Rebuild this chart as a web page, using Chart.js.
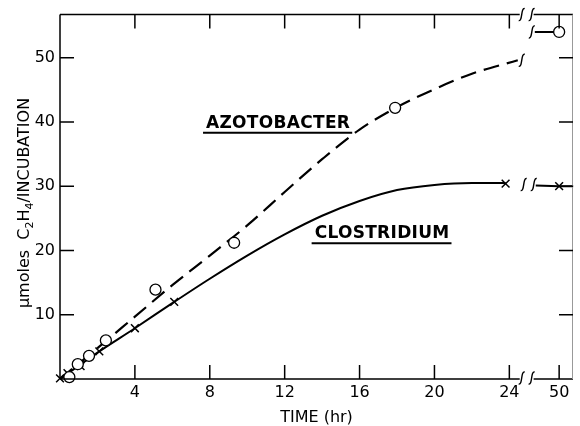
<!DOCTYPE html>
<html>
<head>
<meta charset="utf-8">
<script src="https://cdn.jsdelivr.net/npm/chart.js@4.4.1/dist/chart.umd.min.js"></script>
<style>
  html, body { margin: 0; padding: 0; background: #fff; }
  canvas { display: block; }
</style>
</head>
<body>
<canvas id="ethyleneChart" width="580" height="426"></canvas>
<script>
// measured points (time in hr, umoles C2H4 per incubation)
var azoTimes  = [0.5, 0.95, 1.55, 2.45, 5.1, 9.3, 17.9, 50];
var azoValues = [0.3, 2.3, 3.6, 6.0, 13.9, 21.2, 42.2, 54];
var cloTimes  = [0, 0.4, 1.1, 2.1, 4, 6.1, 23.8, 50];
var cloValues = [0.1, 0.9, 2.0, 4.3, 7.9, 12.0, 30.4, 30.0];

// the hand drawn curves
var azoCurveTimes  = [0, 2, 4, 6, 8, 10, 12, 14, 16, 18, 20, 22, 24.45];
var azoCurveValues = [0, 4.8, 9.7, 14.6, 19.2, 23.9, 29.1, 34.2, 38.8, 42.3, 45.1, 47.5, 49.6];
var cloCurveTimes  = [0, 2, 4, 6, 8, 10, 12, 14, 16, 18, 20, 22, 23.8];
var cloCurveValues = [0, 4.1, 7.9, 11.8, 15.6, 19.2, 22.5, 25.4, 27.7, 29.4, 30.2, 30.5, 30.5];

// short pieces to the right of the axis break
var azoTailTimes  = [47.4, 50];
var azoTailValues = [54, 54];
var cloTailTimes  = [47.5, 50, 51.5];
var cloTailValues = [30.1, 30.0, 30.0];

var xTickValues = [4, 8, 12, 16, 20, 24, 50];
var yTickValues = [10, 20, 30, 40, 50];

// broken time axis: 0-24 hr linear, then a jump to 50 hr
var X_MAX = 27.4;
var X50_POS = 26.66;
var BREAK_A = 24.66, BREAK_B = 25.19;
function toAxis(t) {
	return t < 30 ? t : X50_POS + (t - 50) * 0.5;
}
function points(xs, ys) {
	return xs.map(function(t, i) { return { x: toAxis(t), y: ys[i] }; });
}

var FONT = "'DejaVu Sans', sans-serif";

function drawBreak(ctx, x, y) {
	ctx.beginPath();
	ctx.moveTo(x - 3, y + 6);
	ctx.bezierCurveTo(x + 1, y + 7, x - 1, y - 7, x + 3, y - 6);
	ctx.stroke();
}

var framePlugin = {
	id: 'frame',
	afterDatasetsDraw: function(chart) {
		var ctx = chart.ctx, a = chart.chartArea;
		var xs = chart.scales.x, ys = chart.scales.y;
		var b1 = xs.getPixelForValue(BREAK_A), b2 = xs.getPixelForValue(BREAK_B);
		var T = 14;
		ctx.save();
		ctx.strokeStyle = '#000';
		ctx.lineWidth = 1.5;
		ctx.lineCap = 'butt';

		// box with gaps at the break
		ctx.beginPath();
		ctx.moveTo(a.left, a.top); ctx.lineTo(a.left, a.bottom);
		ctx.moveTo(a.left, a.bottom); ctx.lineTo(b1 - 2, a.bottom);
		ctx.moveTo(b2 + 2, a.bottom); ctx.lineTo(a.right, a.bottom);
		ctx.moveTo(a.left, a.top); ctx.lineTo(b1 - 2, a.top);
		ctx.moveTo(b2 + 2, a.top); ctx.lineTo(a.right, a.top);
		ctx.stroke();
		ctx.lineWidth = 1;
		ctx.strokeStyle = '#999';
		ctx.beginPath();
		ctx.moveTo(a.right - 0.5, a.top); ctx.lineTo(a.right - 0.5, a.bottom);
		ctx.stroke();

		// inward ticks on all four sides
		ctx.strokeStyle = '#000';
		ctx.lineWidth = 1.5;
		ctx.beginPath();
		xs.ticks.forEach(function(t) {
			var px = xs.getPixelForValue(t.value);
			ctx.moveTo(px, a.bottom); ctx.lineTo(px, a.bottom - T);
			ctx.moveTo(px, a.top); ctx.lineTo(px, a.top + T);
		});
		ys.ticks.forEach(function(t) {
			var py = ys.getPixelForValue(t.value);
			ctx.moveTo(a.left, py); ctx.lineTo(a.left + T, py);
			ctx.moveTo(a.right, py); ctx.lineTo(a.right - T, py);
		});
		ctx.stroke();

		// break marks
		ctx.lineWidth = 1.4;
		drawBreak(ctx, b1, a.bottom - 1);
		drawBreak(ctx, b2, a.bottom - 1);
		drawBreak(ctx, b1, a.top);
		drawBreak(ctx, b2, a.top);
		var azoEnd = xs.getPixelForValue(toAxis(azoCurveTimes[azoCurveTimes.length - 1]));
		drawBreak(ctx, azoEnd + 4, ys.getPixelForValue(azoCurveValues[azoCurveValues.length - 1]));
		drawBreak(ctx, xs.getPixelForValue(toAxis(azoTailTimes[0])) - 3, ys.getPixelForValue(azoTailValues[0]));
		var cloY = ys.getPixelForValue(cloTailValues[0]) - 1;
		drawBreak(ctx, b1 + 2, cloY);
		drawBreak(ctx, xs.getPixelForValue(toAxis(cloTailTimes[0])) - 2, cloY);

		// curve names, underlined
		ctx.fillStyle = '#000';
		ctx.font = 'bold 17px ' + FONT;
		ctx.letterSpacing = '0.3px';
		ctx.textBaseline = 'alphabetic';
		ctx.textAlign = 'left';
		[['AZOTOBACTER', 7.8, 39.1], ['CLOSTRIDIUM', 13.6, 21.9]].forEach(function(l) {
			var lx = xs.getPixelForValue(l[1]), ly = ys.getPixelForValue(l[2]);
			var w = ctx.measureText(l[0]).width;
			ctx.fillText(l[0], lx, ly);
			ctx.lineWidth = 2;
			ctx.beginPath();
			ctx.moveTo(lx - 3, ly + 5); ctx.lineTo(lx + w + 2, ly + 5);
			ctx.stroke();
		});
		ctx.letterSpacing = '0px';

		// y title with real subscripts
		var parts = [['\u03bcmoles  C', 16, 0], ['2', 11, 4], ['H', 16, 0], ['4', 11, 4], ['/INCUBATION', 16, 0]];
		var total = 0;
		parts.forEach(function(p) { ctx.font = p[1] + 'px ' + FONT; p.push(ctx.measureText(p[0]).width); total += p[3]; });
		ctx.translate(29, 203);
		ctx.rotate(-Math.PI / 2);
		var u = -total / 2;
		parts.forEach(function(p) {
			ctx.font = p[1] + 'px ' + FONT;
			ctx.fillText(p[0], u, p[2]);
			u += p[3];
		});
		ctx.restore();
	}
};

var tickFont = { family: FONT, size: 16 };

new Chart(document.getElementById('ethyleneChart'), {
	type: 'scatter',
	data: {
		datasets: [{
			label: 'Azotobacter',
			data: points(azoTimes, azoValues),
			pointStyle: 'circle',
			pointRadius: 5.5,
			borderColor: '#000',
			backgroundColor: '#fff',
			borderWidth: 1.3,
			showLine: false,
			clip: false
		}, {
			label: 'Clostridium',
			data: points(cloTimes, cloValues),
			pointStyle: 'crossRot',
			pointRadius: 5.5,
			borderColor: '#000',
			borderWidth: 1.5,
			showLine: false,
			clip: false
		}, {
			label: 'Azotobacter curve',
			data: points(azoCurveTimes, azoCurveValues),
			showLine: true,
			pointRadius: 0,
			borderColor: '#000',
			borderWidth: 2.2,
			borderDash: [16, 8],
			cubicInterpolationMode: 'monotone'
		}, {
			label: 'Azotobacter tail',
			data: points(azoTailTimes, azoTailValues),
			showLine: true,
			pointRadius: 0,
			borderColor: '#000',
			borderWidth: 2
		}, {
			label: 'Clostridium curve',
			data: points(cloCurveTimes, cloCurveValues),
			showLine: true,
			pointRadius: 0,
			borderColor: '#000',
			borderWidth: 2,
			cubicInterpolationMode: 'monotone'
		}, {
			label: 'Clostridium tail',
			data: points(cloTailTimes, cloTailValues),
			showLine: true,
			pointRadius: 0,
			borderColor: '#000',
			borderWidth: 2,
			clip: false
		}]
	},
	options: {
		responsive: false,
		animation: false,
		layout: { padding: { top: 14, right: 1, left: 0, bottom: 0 } },
		plugins: {
			legend: { display: false },
			tooltip: { enabled: false }
		},
		scales: {
			x: {
				type: 'linear',
				min: 0,
				max: X_MAX,
				afterFit: function(s) { s.height = 47; },
				afterBuildTicks: function(s) {
					s.ticks = xTickValues.map(function(v) { return { value: toAxis(v) }; });
				},
				grid: { display: false, drawTicks: false },
				border: { display: false },
				ticks: {
					font: tickFont,
					color: '#000',
					padding: 4,
					autoSkip: false,
					maxRotation: 0,
					callback: function(v, i) { return String(xTickValues[i]); }
				},
				title: {
					display: true,
					text: 'TIME (hr)',
					color: '#000',
					font: { family: FONT, size: 16, lineHeight: 1 },
					padding: 0
				}
			},
			y: {
				min: 0,
				max: 56.7,
				afterFit: function(s) { s.width = 60; },
				afterBuildTicks: function(s) {
					s.ticks = yTickValues.map(function(v) { return { value: v }; });
				},
				grid: { display: false, drawTicks: false },
				border: { display: false },
				ticks: {
					font: tickFont,
					color: '#000',
					padding: 5
				}
			}
		}
	},
	plugins: [framePlugin]
});
</script>
</body>
</html>
